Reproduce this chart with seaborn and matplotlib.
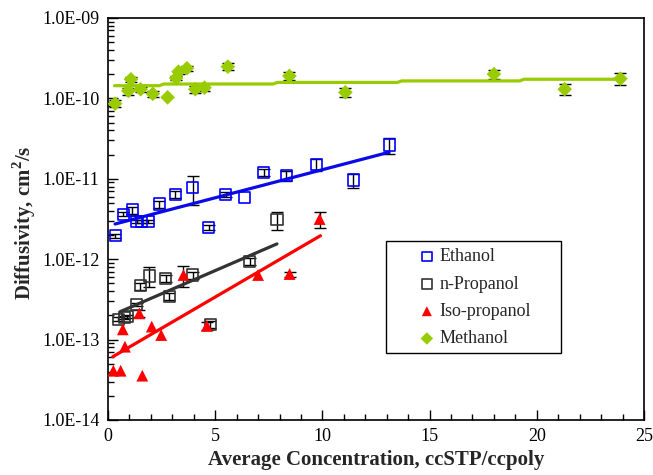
import numpy as np
import matplotlib
matplotlib.use("Agg")
import matplotlib.pyplot as plt
import seaborn as sns
from matplotlib.ticker import FuncFormatter, MultipleLocator, LogLocator, NullFormatter
from matplotlib.patches import Rectangle

# ---- measured diffusivities (cm^2/s) vs average concentration (ccSTP/ccpoly)
ethanol_x = [0.33, 0.72, 1.14, 1.34, 1.57, 1.88, 2.40, 3.13, 3.96, 4.69, 5.50, 6.36, 7.26, 8.31, 9.72, 11.43, 13.11]
ethanol_y = [1.96e-12, 3.62e-12, 4.09e-12, 2.93e-12, 2.93e-12, 2.93e-12, 4.86e-12, 6.41e-12, 7.75e-12,
             2.49e-12, 6.41e-12, 5.89e-12, 1.20e-11, 1.09e-11, 1.51e-11, 9.66e-12, 2.63e-11]
ethanol_rel_err = [0.06, 0.06, 0.10, 0.05, 0.05, 0.05, 0.10, 0.10, 0.39, 0.08, 0.08, np.nan, 0.10, 0.15, 0.18, 0.20, 0.22]

npropanol_x = [0.48, 0.75, 0.90, 1.34, 1.50, 1.93, 2.69, 2.85, 3.96, 4.77, 6.60, 7.88]
npropanol_y = [1.80e-13, 1.89e-13, 1.93e-13, 2.75e-13, 4.65e-13, 6.18e-13, 5.78e-13, 3.46e-13,
               6.36e-13, 1.56e-13, 9.31e-13, 3.08e-12]
npropanol_rel_err = [0.05, 0.05, 0.05, 0.05, 0.10, 0.28, 0.10, 0.10, 0.10, 0.10, 0.10, 0.25]

isopropanol_x = [0.25, 0.59, 0.69, 0.79, 1.46, 1.60, 2.04, 2.48, 3.52, 4.61, 7.00, 8.47, 9.87]
isopropanol_y = [4.10e-14, 4.10e-14, 1.34e-13, 8.16e-14, 2.12e-13, 3.56e-14, 1.45e-13, 1.14e-13,
                 6.36e-13, 1.48e-13, 6.36e-13, 6.54e-13, 3.16e-12]
isopropanol_rel_err = [np.nan, np.nan, np.nan, np.nan, 0.10, np.nan, np.nan, np.nan, 0.30, 0.12, np.nan, 0.07, 0.22]

methanol_x = [0.33, 0.95, 1.07, 1.52, 2.09, 2.78, 3.18, 3.29, 3.68, 4.07, 4.50, 5.59, 8.46, 11.07, 18.0, 21.3, 23.9]
methanol_y = [8.6e-11, 1.24e-10, 1.73e-10, 1.30e-10, 1.14e-10, 1.03e-10, 1.79e-10, 2.15e-10, 2.37e-10,
              1.30e-10, 1.36e-10, 2.48e-10, 1.90e-10, 1.19e-10, 2.0e-10, 1.30e-10, 1.76e-10]
methanol_rel_err = [0.10, 0.10, 0.08, 0.08, 0.08, np.nan, 0.06, 0.06, 0.08, 0.10, 0.10, 0.10, 0.12, 0.13, 0.13, 0.15, 0.16]

# ---- fitted trend lines
ethanol_fit_x = [0.33, 13.11]
ethanol_fit_y = [2.74e-12, 2.14e-11]
npropanol_fit_x = [0.56, 7.88]
npropanol_fit_y = [2.22e-13, 1.55e-12]
isopropanol_fit_x = [0.22, 9.91]
isopropanol_fit_y = [6.12e-14, 1.96e-12]
methanol_fit_x = [0.3, 2.4, 2.6, 7.7, 7.9, 13.5, 13.7, 19.2, 19.4, 24.0]
methanol_fit_y = [1.44e-10, 1.44e-10, 1.51e-10, 1.51e-10, 1.58e-10, 1.58e-10, 1.65e-10, 1.65e-10, 1.73e-10, 1.73e-10]

x_ticks = [0, 5, 10, 15, 20, 25]
y_ticks = [1e-14, 1e-13, 1e-12, 1e-11, 1e-10, 1e-9]

sns.set_style("ticks")
plt.rcParams["font.family"] = ["Liberation Serif", "DejaVu Serif"]
plt.rcParams["mathtext.fontset"] = "custom"
plt.rcParams["mathtext.rm"] = "Liberation Serif"
plt.rcParams["mathtext.bf"] = "Liberation Serif:bold"

W, H = 653, 475
fig = plt.figure(figsize=(W / 100, H / 100), dpi=100)
ax = fig.add_axes([108 / W, 1 - 420 / H, (644 - 108) / W, (420 - 18) / H])
ax.set_yscale("log")

series = [
    ("Ethanol", ethanol_x, ethanol_y, ethanol_rel_err, ethanol_fit_x, ethanol_fit_y,
     dict(marker="s", s=64, facecolor="none", edgecolor="#0000FF", linewidth=1.2), "#0a0ae6"),
    ("n-Propanol", npropanol_x, npropanol_y, npropanol_rel_err, npropanol_fit_x, npropanol_fit_y,
     dict(marker="s", s=64, facecolor="none", edgecolor="#333333", linewidth=1.2), "#333333"),
    ("Iso-propanol", isopropanol_x, isopropanol_y, isopropanol_rel_err, isopropanol_fit_x, isopropanol_fit_y,
     dict(marker="^", s=72, color="#FF0000", edgecolor="none"), "#FF0000"),
    ("Methanol", methanol_x, methanol_y, methanol_rel_err, methanol_fit_x, methanol_fit_y,
     dict(marker="D", s=56, color="#99CC00", edgecolor="none"), "#99CC00"),
]

for name, x, y, rel, fx, fy, mkw, lcolor in series:
    x = np.asarray(x)
    y = np.asarray(y)
    yerr = y * np.asarray(rel)
    ax.errorbar(x, y, yerr=yerr, fmt="none", ecolor="black", elinewidth=1.0,
                capsize=4, capthick=1.0, zorder=2)
    sns.lineplot(x=fx, y=fy, ax=ax, color=lcolor, linewidth=2.3, sort=False,
                 estimator=None, legend=False, zorder=2.5)
    sns.scatterplot(x=x, y=y, ax=ax, label=name, zorder=3, **mkw)

ax.set_xlim(0, 25)
ax.set_ylim(1e-14, 1e-9)
ax.set_xticks(x_ticks)
ax.xaxis.set_minor_locator(MultipleLocator(1))
ax.set_yticks(y_ticks)
ax.yaxis.set_minor_locator(LogLocator(base=10, subs=np.arange(2, 10)))
ax.yaxis.set_minor_formatter(NullFormatter())
ax.yaxis.set_major_formatter(FuncFormatter(lambda v, p: f"{v:.1E}"))
ax.tick_params(which="both", direction="in", top=False, right=False,
               labelsize=13, colors="black", width=1.0)
ax.tick_params(which="major", length=7, pad=6)
ax.tick_params(which="minor", length=4)
for sp in ax.spines.values():
    sp.set_visible(True)
    sp.set_color("black")
    sp.set_linewidth(1.2)

ax.set_xlabel("Average Concentration, ccSTP/ccpoly", fontsize=15, fontweight="bold")
ax.set_ylabel(r"Diffusivity, cm$^{\mathbf{2}}$/s", fontsize=15, fontweight="bold")
ax.xaxis.set_label_coords(0.5, -0.075)
ax.yaxis.set_label_coords(-0.13, 0.49)

handles, labels = ax.get_legend_handles_labels()
ax.legend(handles, labels, loc="upper left", bbox_to_anchor=(0.578, 0.427),
          frameon=False, fontsize=13, handletextpad=0.22, handlelength=1.0,
          labelspacing=0.57, borderpad=0, borderaxespad=0, markerscale=0.85)
ax.add_patch(Rectangle((0.518, 0.167), 0.327, 0.278, transform=ax.transAxes,
                       fill=False, edgecolor="black", linewidth=1.0, zorder=5))

fig.savefig("out.png", dpi=100)
